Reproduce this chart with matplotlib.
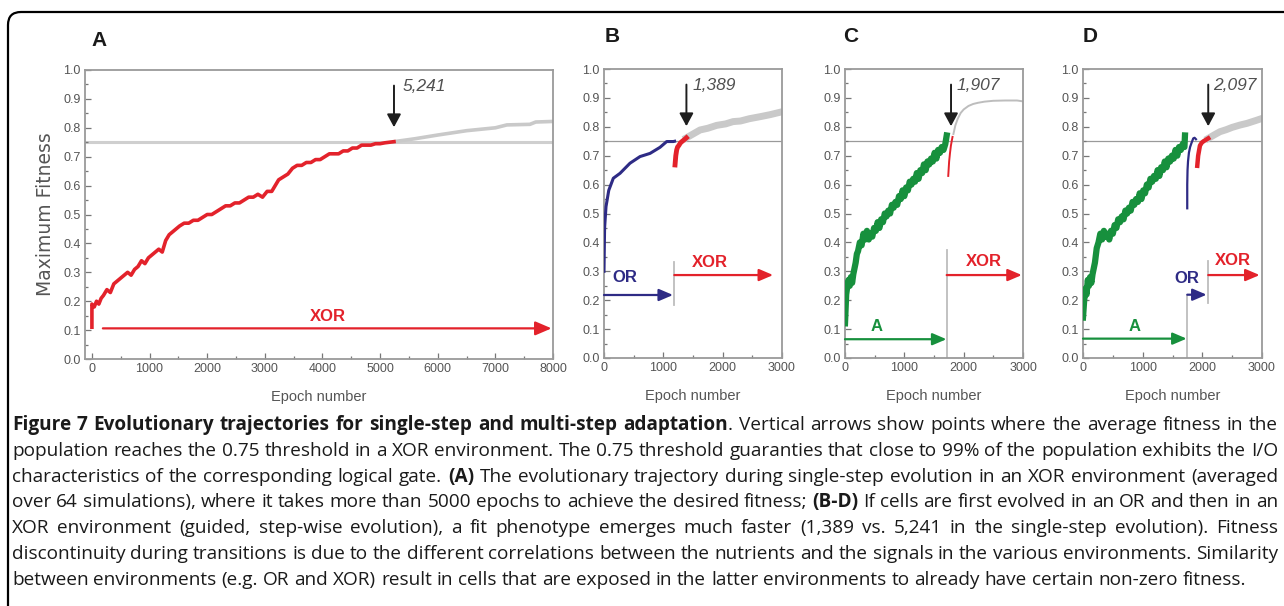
import matplotlib
matplotlib.use("Agg")
import matplotlib.pyplot as plt
from matplotlib.patches import FancyBboxPatch
from matplotlib.transforms import IdentityTransform
from matplotlib.ticker import MultipleLocator, FormatStrFormatter

# ---------------- data ----------------
threshold = 0.75

a_red_x = [0, 0, 40, 80, 120, 160, 200, 260, 320, 380, 440, 500, 560, 620, 680, 740, 800, 860, 920, 980,
           1040, 1100, 1160, 1220, 1280, 1340, 1400, 1460, 1520, 1600, 1680, 1760, 1840, 1920, 2000, 2080,
           2160, 2240, 2320, 2400, 2480, 2560, 2640, 2720, 2800, 2880, 2960, 3040, 3120, 3180, 3240, 3320,
           3400, 3480, 3560, 3640, 3720, 3800, 3880, 3960, 4040, 4120, 4200, 4280, 4360, 4440, 4520, 4600,
           4680, 4760, 4840, 4920, 5000, 5080, 5160, 5241]
a_red_y = [0.11, 0.19, 0.18, 0.20, 0.19, 0.21, 0.22, 0.24, 0.23, 0.26, 0.27, 0.28, 0.29, 0.30, 0.29, 0.31,
           0.32, 0.34, 0.33, 0.35, 0.36, 0.37, 0.38, 0.37, 0.41, 0.43, 0.44, 0.45, 0.46, 0.47, 0.47, 0.48,
           0.48, 0.49, 0.50, 0.50, 0.51, 0.52, 0.53, 0.53, 0.54, 0.54, 0.55, 0.56, 0.56, 0.57, 0.56, 0.58,
           0.58, 0.60, 0.62, 0.63, 0.64, 0.66, 0.67, 0.67, 0.68, 0.68, 0.69, 0.69, 0.70, 0.71, 0.71, 0.71,
           0.72, 0.72, 0.73, 0.73, 0.74, 0.74, 0.74, 0.745, 0.745, 0.748, 0.75, 0.752]
a_gray_x = [5241, 5600, 6000, 6500, 7000, 7200, 7600, 7700, 8000]
a_gray_y = [0.752, 0.762, 0.775, 0.79, 0.80, 0.81, 0.812, 0.82, 0.822]

b_blue_x = [0, 10, 34, 80, 157, 270, 438, 607, 776, 944, 1057, 1169, 1190]
b_blue_y = [0.30, 0.45, 0.524, 0.58, 0.622, 0.639, 0.674, 0.697, 0.708, 0.729, 0.749, 0.749, 0.75]
b_red_x = [1197, 1210, 1225, 1240, 1260, 1290, 1320, 1350, 1389]
b_red_y = [0.668, 0.70, 0.72, 0.73, 0.735, 0.745, 0.75, 0.755, 0.762]
b_gray_x = [1389, 1500, 1619, 1750, 1900, 2050, 2176, 2300, 2450, 2631, 2800, 3000]
b_gray_y = [0.762, 0.775, 0.789, 0.795, 0.805, 0.81, 0.818, 0.82, 0.828, 0.835, 0.842, 0.852]

c_green_x = [0, 20, 40, 60, 80, 100, 120, 140, 160, 180, 200, 220, 250, 280, 310, 340, 370, 400, 430, 460,
             490, 520, 550, 580, 610, 640, 670, 700, 730, 760, 790, 820, 850, 880, 910, 940, 970, 1000, 1030,
             1060, 1090, 1120, 1150, 1180, 1210, 1240, 1270, 1300, 1330, 1360, 1390, 1420, 1450, 1480, 1510,
             1540, 1570, 1600, 1630, 1660, 1690, 1714]
c_green_y = [0.12, 0.22, 0.25, 0.27, 0.25, 0.28, 0.26, 0.29, 0.31, 0.33, 0.36, 0.37, 0.40, 0.39, 0.43, 0.41,
             0.44, 0.41, 0.43, 0.42, 0.45, 0.44, 0.47, 0.45, 0.48, 0.47, 0.50, 0.49, 0.51, 0.50, 0.53, 0.52,
             0.54, 0.53, 0.56, 0.55, 0.58, 0.56, 0.59, 0.58, 0.61, 0.60, 0.62, 0.61, 0.64, 0.62, 0.65, 0.64,
             0.67, 0.65, 0.68, 0.67, 0.69, 0.68, 0.71, 0.69, 0.72, 0.71, 0.73, 0.72, 0.74, 0.77]
c_red_x = [1740, 1755, 1770, 1785, 1800, 1812]
c_red_y = [0.63, 0.68, 0.71, 0.735, 0.752, 0.765]
c_gray_x = [1827, 1860, 1900, 1950, 2000, 2080, 2160, 2240, 2350, 2500, 2700, 2900, 3000]
c_gray_y = [0.775, 0.805, 0.828, 0.848, 0.86, 0.872, 0.879, 0.883, 0.887, 0.89, 0.891, 0.891, 0.888]

d_green_x = [0, 20, 40, 60, 80, 100, 120, 140, 160, 180, 200, 230, 260, 290, 320, 350, 380, 410, 440, 470,
             500, 530, 560, 590, 620, 650, 680, 710, 740, 770, 800, 830, 860, 890, 920, 950, 980, 1010, 1040,
             1070, 1100, 1130, 1160, 1190, 1220, 1250, 1280, 1310, 1340, 1370, 1400, 1430, 1460, 1490, 1520,
             1550, 1580, 1610, 1640, 1670, 1700, 1709]
d_green_y = [0.14, 0.20, 0.24, 0.22, 0.27, 0.25, 0.28, 0.26, 0.29, 0.31, 0.33, 0.38, 0.40, 0.43, 0.41, 0.44,
             0.42, 0.43, 0.41, 0.44, 0.43, 0.46, 0.45, 0.48, 0.47, 0.49, 0.48, 0.51, 0.50, 0.52, 0.51, 0.54,
             0.53, 0.55, 0.54, 0.57, 0.55, 0.58, 0.57, 0.60, 0.59, 0.62, 0.61, 0.63, 0.62, 0.65, 0.63, 0.66,
             0.65, 0.68, 0.66, 0.69, 0.68, 0.70, 0.69, 0.72, 0.70, 0.73, 0.72, 0.74, 0.73, 0.77]
d_blue_x = [1747, 1747, 1752, 1760, 1775, 1795, 1820, 1848, 1870, 1893]
d_blue_y = [0.518, 0.60, 0.65, 0.68, 0.71, 0.73, 0.745, 0.76, 0.762, 0.757]
d_red_x = [1915, 1930, 1960, 1990, 2020, 2060, 2099]
d_red_y = [0.665, 0.70, 0.735, 0.745, 0.75, 0.755, 0.76]
d_gray_x = [2099, 2200, 2295, 2400, 2500, 2630, 2750, 2900, 3000]
d_gray_y = [0.76, 0.772, 0.783, 0.79, 0.798, 0.806, 0.812, 0.822, 0.829]

panel_letters = ["A", "B", "C", "D"]
cross_epochs = [5241, 1389, 1787, 2099]          # where the vertical arrows point
cross_labels = ["5,241", "1,389", "1,907", "2,097"]
cross_label_x = [5392, 1500, 1883, 2183]

x_ticks_a = [0, 1000, 2000, 3000, 4000, 5000, 6000, 7000, 8000]
x_ticks_bcd = [0, 1000, 2000, 3000]
y_ticks = [0.0, 0.1, 0.2, 0.3, 0.4, 0.5, 0.6, 0.7, 0.8, 0.9, 1.0]

# environment arrows: label, start, end, arrow y, label x, label y, colour key
env_a = [("XOR", 190, 7975, 0.106, 4092, 0.146, "red")]
env_b = [("OR", 0, 1163, 0.218, 354, 0.277, "blue"), ("XOR", 1185, 2850, 0.287, 1790, 0.330, "red")]
env_c = [("A", 0, 1710, 0.065, 537, 0.110, "green"), ("XOR", 1714, 2980, 0.287, 2340, 0.333, "red")]
env_d = [("A", 0, 1737, 0.067, 870, 0.110, "green"), ("OR", 1747, 2072, 0.219, 1740, 0.276, "blue"),
         ("XOR", 2099, 2960, 0.287, 2515, 0.338, "red")]
# separators: x, y0, y1
sep_b = [(1185, 0.183, 0.333)]
sep_c = [(1714, 0.0, 0.375)]
sep_d = [(1747, 0.0, 0.216), (2099, 0.19, 0.337)]

caption_lines = [
    "**Figure 7 Evolutionary trajectories for single-step and multi-step adaptation**. Vertical arrows show points where the average fitness in the",
    "population reaches the 0.75 threshold in a XOR environment. The 0.75 threshold guaranties that close to 99% of the population exhibits the I/O",
    "characteristics of the corresponding logical gate. **(A)** The evolutionary trajectory during single-step evolution in an XOR environment (averaged",
    "over 64 simulations), where it takes more than 5000 epochs to achieve the desired fitness; **(B-D)** If cells are first evolved in an OR and then in an",
    "XOR environment (guided, step-wise evolution), a fit phenotype emerges much faster (1,389 vs. 5,241 in the single-step evolution). Fitness",
    "discontinuity during transitions is due to the different correlations between the nutrients and the signals in the various environments. Similarity",
    "between environments (e.g. OR and XOR) result in cells that are exposed in the latter environments to already have certain non-zero fitness.",
]

# ---------------- styling ----------------
COL = {"red": "#e3222b", "blue": "#2e2b85", "green": "#17903d"}
GRAY_CURVE = "#c9c9c9"
NARROW = ["Liberation Sans Narrow", "Liberation Sans", "DejaVu Sans"]
plt.rcParams["font.family"] = NARROW

W, H = 1284, 606
fig = plt.figure(figsize=(W / 100, H / 100), dpi=100)


def add_axes(l, r, t, b):
    return fig.add_axes([l / W, 1 - b / H, (r - l) / W, (b - t) / H])


def style(ax, xlim, xticks):
    ax.set_xlim(*xlim)
    ax.set_ylim(0, 1.0)
    ax.set_xticks(xticks)
    ax.set_yticks(y_ticks)
    ax.xaxis.set_minor_locator(MultipleLocator(500))
    ax.yaxis.set_minor_locator(MultipleLocator(0.05))
    ax.yaxis.set_major_formatter(FormatStrFormatter("%.1f"))
    ax.xaxis.set_major_formatter(FormatStrFormatter("%d"))
    ax.tick_params(which="both", direction="in", color="#777777", width=0.9,
                   labelsize=9, labelcolor="#555555", pad=3, top=False, right=False)
    ax.tick_params(which="major", length=4)
    ax.tick_params(which="minor", length=2.5)
    for s in ax.spines.values():
        s.set_color("#9a9a9a")
        s.set_linewidth(1.3)
    ax.set_xlabel("Epoch number", fontsize=10.5, color="#555555", labelpad=11)


def env_arrows(ax, envs, seps, ms):
    for (lab, x0, x1, y, lx, ly, ck) in envs:
        ax.annotate("", xy=(x1, y), xytext=(x0, y),
                    arrowprops=dict(arrowstyle="-|>,head_length=0.7,head_width=0.3",
                                    color=COL[ck], lw=1.6, shrinkA=0, shrinkB=0,
                                    mutation_scale=ms))
        ax.text(lx, ly, lab, color=COL[ck], fontsize=12, fontweight="bold",
                family=["Liberation Sans", "DejaVu Sans"], ha="center", va="center")
    for (sx, y0, y1) in seps:
        ax.plot([sx, sx], [y0, y1], color="#bdbdbd", lw=1.3)


def cross_arrow(ax, i):
    x = cross_epochs[i]
    ax.annotate("", xy=(x, 0.802), xytext=(x, 0.946),
                arrowprops=dict(arrowstyle="-|>,head_length=0.65,head_width=0.35",
                                color="#1e1e1e", lw=1.4, shrinkA=0, shrinkB=0, mutation_scale=12))
    ax.text(cross_label_x[i], 0.942, cross_labels[i], fontsize=12.5, style="italic",
            color="#505050", family=["Liberation Sans", "DejaVu Sans"], ha="left", va="center")


# ---- Panel A ----
axA = add_axes(85, 553, 70, 359)
style(axA, (-120, 8000), x_ticks_a)
axA.axhline(threshold, color="#cfcfcf", lw=2.2, zorder=1)
axA.plot(a_gray_x, a_gray_y, color=GRAY_CURVE, lw=2.6, zorder=2)
axA.plot(a_red_x, a_red_y, color=COL["red"], lw=2.6, zorder=3)
env_arrows(axA, env_a, [], 14)
cross_arrow(axA, 0)
axA.set_ylabel("Maximum Fitness", fontsize=13.5, color="#555555",
               family=["DejaVu Sans"], labelpad=6)

# ---- Panel B ----
axB = add_axes(604, 782, 69, 358)
style(axB, (0, 3000), x_ticks_bcd)
axB.axhline(threshold, color="#9a9a9a", lw=0.9, zorder=1)
axB.plot(b_gray_x, b_gray_y, color=GRAY_CURVE, lw=5, zorder=2)
axB.plot(b_blue_x, b_blue_y, color=COL["blue"], lw=2.2, zorder=3)
axB.plot(b_red_x, b_red_y, color=COL["red"], lw=3.5, zorder=3)
env_arrows(axB, env_b, sep_b, 12)
cross_arrow(axB, 1)

# ---- Panel C ----
axC = add_axes(845, 1023, 69, 358)
style(axC, (0, 3000), x_ticks_bcd)
axC.axhline(threshold, color="#9a9a9a", lw=0.9, zorder=1)
axC.plot(c_gray_x, c_gray_y, color="#bdbdbd", lw=1.4, zorder=2)
axC.plot(c_green_x, c_green_y, color=COL["green"], lw=4.5, zorder=3)
axC.plot(c_red_x, c_red_y, color=COL["red"], lw=1.4, zorder=3)
env_arrows(axC, env_c, sep_c, 12)
cross_arrow(axC, 2)

# ---- Panel D ----
axD = add_axes(1083, 1262, 69, 358)
style(axD, (0, 3000), x_ticks_bcd)
axD.axhline(threshold, color="#9a9a9a", lw=0.9, zorder=1)
axD.plot(d_gray_x, d_gray_y, color=GRAY_CURVE, lw=5, zorder=2)
axD.plot(d_green_x, d_green_y, color=COL["green"], lw=4.5, zorder=3)
axD.plot(d_blue_x, d_blue_y, color=COL["blue"], lw=1.6, zorder=3)
axD.plot(d_red_x, d_red_y, color=COL["red"], lw=3.2, zorder=3)
env_arrows(axD, env_d, sep_d, 12)
cross_arrow(axD, 3)

# panel letters
for lab, px, py in zip(panel_letters, [99, 612, 851, 1090], [40, 37, 37, 37]):
    fig.text(px / W, 1 - py / H, lab, fontsize=15, fontweight="bold",
             family=["Liberation Sans", "DejaVu Sans"], ha="center", va="center", color="#1a1a1a")

# frame
frame = FancyBboxPatch((8, -40), 1320, H - 12 + 40,
                       boxstyle="round,pad=0,rounding_size=13",
                       transform=IdentityTransform(), fill=False, lw=1.6, ec="black")
fig.add_artist(frame)

# ---------------- caption (justified) ----------------
CAP_FONT = ["Open Sans", "DejaVu Sans"]
x_left, x_right = 12, 1278
last_line_right = 1245
baselines = [430 + 25.8 * i for i in range(len(caption_lines))]
renderer = fig.canvas.get_renderer()


def parse(line):
    words, cur, seg, bold = [], [], "", False
    i = 0
    while i < len(line):
        if line.startswith("**", i):
            if seg:
                cur.append((seg, bold))
                seg = ""
            bold = not bold
            i += 2
            continue
        c = line[i]
        if c == " ":
            if seg:
                cur.append((seg, bold))
                seg = ""
            if cur:
                words.append(cur)
                cur = []
        else:
            seg += c
        i += 1
    if seg:
        cur.append((seg, bold))
    if cur:
        words.append(cur)
    return words


def mk(s, bold, size):
    return fig.text(0, 0, s, fontsize=size, family=CAP_FONT,
                    fontweight="bold" if bold else "normal", color="#1a1a1a",
                    ha="left", va="baseline")


def width_of(s, bold, size):
    t = mk(s, bold, size)
    w = t.get_window_extent(renderer).width
    t.remove()
    return w


def space_width(size):
    return width_of("a a", False, size) - width_of("aa", False, size)


# calibrate font size so the (unjustified) last line spans like the reference
probe = 10.0
pw = parse(caption_lines[-1])
nat = sum(width_of(s, b, probe) for w in pw for (s, b) in w) + space_width(probe) * (len(pw) - 1)
CAP_SIZE = probe * (last_line_right - x_left) / nat
space_w = space_width(CAP_SIZE)

for li, line in enumerate(caption_lines):
    words = parse(line)
    items = []
    total = 0.0
    for w in words:
        segs = []
        ww = 0.0
        for (s, b) in w:
            t = mk(s, b, CAP_SIZE)
            sw = t.get_window_extent(renderer).width
            segs.append((t, sw))
            ww += sw
        items.append((segs, ww))
        total += ww
    last = li == len(caption_lines) - 1
    gap = space_w if last else (x_right - x_left - total) / (len(items) - 1)
    x = x_left
    yb = 1 - baselines[li] / H
    for segs, ww in items:
        xx = x
        for t, sw in segs:
            t.set_position((xx / W, yb))
            xx += sw
        x += ww + gap

fig.savefig("out.png", dpi=100)
